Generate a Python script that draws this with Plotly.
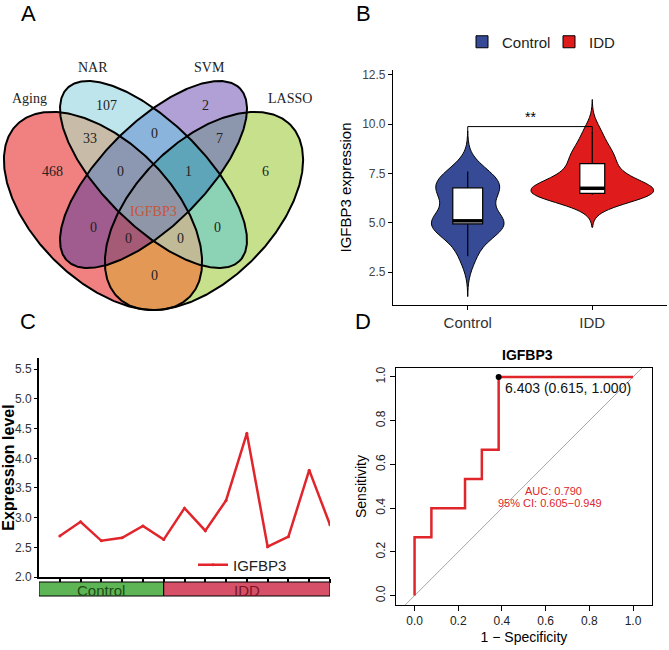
import numpy as np
import plotly.graph_objects as go

# ---------------- DATA ----------------
# Panel A - Venn diagram
venn_sets = ["Aging", "NAR", "SVM", "LASSO"]
venn_regions = ["Aging", "NAR", "SVM", "LASSO", "Aging&NAR", "NAR&SVM", "SVM&LASSO",
                "Aging&NAR&SVM", "NAR&SVM&LASSO", "Aging&NAR&SVM&LASSO", "Aging&SVM", "NAR&LASSO",
                "Aging&SVM&LASSO", "Aging&NAR&LASSO", "Aging&LASSO"]
venn_counts = ["468", "107", "2", "6", "33", "0", "7", "0", "1", "IGFBP3", "0", "0", "0", "0", "0"]

# Panel B - IGFBP3 expression samples
control_expr = [7.6, 7.3, 7.0, 6.7, 6.55, 6.38, 5.1, 5.08, 5.03, 5.0, 4.8, 4.3, 3.3]
idd_expr = [9.6, 8.8, 8.4, 8.15, 7.55, 7.45, 6.9, 6.75, 6.65, 6.6, 6.52, 6.48, 6.46, 6.44, 6.42]
groups_b = ["Control", "IDD"]
signif_label = "**"

# Panel C - validation expression level
line_values = [2.69, 2.93, 2.61, 2.66, 2.86, 2.63, 3.16, 2.78, 3.29, 4.42, 2.51, 2.68, 3.80, 2.88]
line_groups = ["Control"] * 6 + ["IDD"] * 8
line_gene = "IGFBP3"

# Panel D - ROC
roc_fpr = [0.0, 0.0, 0.077, 0.077, 0.231, 0.231, 0.308, 0.308, 0.385, 0.385, 1.0]
roc_tpr = [0.0, 0.267, 0.267, 0.4, 0.4, 0.533, 0.533, 0.667, 0.667, 1.0, 1.0]
roc_best = {"threshold": 6.403, "specificity": 0.615, "sensitivity": 1.000}
roc_auc = 0.790
roc_ci = (0.605, 0.949)

# ---------------- LAYOUT HELPERS ----------------
W, H = 669, 650
def px(x):
    return x / W
def py(y):
    return 1 - y / H

SANS = "Liberation Sans, Arial, sans-serif"
SERIF = "Liberation Serif, Times New Roman, serif"

fig = go.Figure()

# ---------------- PANEL A: Venn ----------------
# ellipse geometry in panel-A units: cx, cy, a, b, angle (deg, y down)
ell_geom = {
    "Aging": (103, 211, 122, 69, 45),
    "NAR":   (153.5, 174.5, 122, 51, 45),
    "SVM":   (153.5, 174.5, 122, 51, -45),
    "LASSO": (204, 211, 122, 69, -45),
}
# region colours keyed by membership (Aging, NAR, SVM, LASSO)
region_rgb = {
    (1, 0, 0, 0): (241, 128, 128), (0, 1, 0, 0): (190, 229, 236),
    (0, 0, 1, 0): (176, 160, 214), (0, 0, 0, 1): (199, 224, 140),
    (1, 1, 0, 0): (200, 188, 168), (0, 1, 1, 0): (138, 180, 220),
    (0, 0, 1, 1): (140, 150, 172), (1, 1, 1, 0): (140, 152, 178),
    (0, 1, 1, 1): (95, 165, 185),  (1, 1, 1, 1): (142, 150, 168),
    (1, 0, 1, 0): (160, 92, 142),  (0, 1, 0, 1): (140, 210, 180),
    (1, 0, 1, 1): (165, 90, 118),  (1, 1, 0, 1): (192, 186, 150),
    (1, 0, 0, 1): (228, 152, 85),  (0, 0, 0, 0): (255, 255, 255),
}

def inside(cx, cy, a, b, ang, X, Y):
    r = np.deg2rad(ang)
    dx, dy = X - cx, Y - cy
    u = dx * np.cos(r) + dy * np.sin(r)
    v = -dx * np.sin(r) + dy * np.cos(r)
    return (u / a) ** 2 + (v / b) ** 2 <= 1

A_X0, A_Y0, A_W, A_H = 0, 55, 330, 265
gx, gy = np.meshgrid(np.arange(A_W) + A_X0 + 0.5, np.arange(A_H) + A_Y0 + 0.5)
masks = [inside(*ell_geom[s], gx, gy).astype(int) for s in venn_sets]
img = np.zeros((A_H, A_W, 3), dtype=np.uint8)
for key, rgb in region_rgb.items():
    sel = (masks[0] == key[0]) & (masks[1] == key[1]) & (masks[2] == key[2]) & (masks[3] == key[3])
    img[sel] = rgb
fig.add_trace(go.Image(z=img, x0=A_X0 + 0.5, y0=A_Y0 + 0.5, dx=1, dy=1, xaxis="x", yaxis="y",
                       hoverinfo="skip"))

t = np.linspace(0, 2 * np.pi, 400)
def ellipse(cx, cy, a, b, ang):
    r = np.deg2rad(ang)
    x = cx + a * np.cos(t) * np.cos(r) - b * np.sin(t) * np.sin(r)
    y = cy + a * np.cos(t) * np.sin(r) + b * np.sin(t) * np.cos(r)
    return x, y

for s in venn_sets:
    ex, ey = ellipse(*ell_geom[s])
    fig.add_trace(go.Scatter(x=ex, y=ey, mode="lines", line=dict(color="black", width=2),
                             xaxis="x", yaxis="y", showlegend=False, hoverinfo="skip"))

region_pos = [(52, 171), (106, 105), (205, 105), (265, 171), (90, 138), (154, 133), (219, 138),
              (120, 171), (188, 171), (153, 211), (93, 227), (217, 227), (128, 238), (180, 238),
              (154, 275)]
set_label_pos = [(29, 98), (93, 67), (209, 67), (290, 98)]

annotations = []
for lab, (x, y) in zip(venn_counts, region_pos):
    col = "#C8553D" if not lab.isdigit() else "#222222"
    annotations.append(dict(x=x, y=y, xref="x", yref="y", text=lab, showarrow=False,
                            xanchor="center", yanchor="middle",
                            font=dict(family=SERIF, size=14, color=col)))
for lab, (x, y) in zip(venn_sets, set_label_pos):
    annotations.append(dict(x=x, y=y, xref="x", yref="y", text=lab, showarrow=False,
                            xanchor="center", yanchor="middle",
                            font=dict(family=SERIF, size=14, color="#222222")))

# ---------------- PANEL B: violin ----------------
b_colors = {"Control": "#364A95", "IDD": "#E01B1B"}
b_width = {"Control": 0.58, "IDD": 0.98}
b_bw = {"Control": 0.68, "IDD": 0.55}
b_box = {"Control": 0.24, "IDD": 0.2}
for i, (g, vals) in enumerate(zip(groups_b, [control_expr, idd_expr])):
    bw = b_bw[g]
    fig.add_trace(go.Violin(x0=i, y=vals, name=g, fillcolor=b_colors[g],
                            line=dict(color="black", width=1), width=b_width[g],
                            bandwidth=bw, spanmode="manual",
                            span=[min(vals) - 3 * bw, max(vals) + 3 * bw],
                            points=False, opacity=1, xaxis="x2", yaxis="y2",
                            legend="legend", hoverinfo="skip"))
for i, (g, vals) in enumerate(zip(groups_b, [control_expr, idd_expr])):
    fig.add_trace(go.Box(x0=i, y=vals, width=b_box[g], fillcolor="white",
                         line=dict(color="black", width=1.2), boxpoints=False,
                         whiskerwidth=0, showlegend=False, xaxis="x2", yaxis="y2",
                         hoverinfo="skip"))
    med = float(np.median(vals))
    fig.add_trace(go.Scatter(x=[i - b_box[g] / 2, i + b_box[g] / 2], y=[med, med], mode="lines",
                             line=dict(color="black", width=3.5), showlegend=False,
                             xaxis="x2", yaxis="y2", hoverinfo="skip"))

shapes = []
shapes.append(dict(type="path", xref="x2", yref="y2",
                   path="M 0,9.6 L 0,9.88 L 1,9.88 L 1,9.55",
                   line=dict(color="black", width=1)))
annotations.append(dict(x=0.5, y=10.35, xref="x2", yref="y2", text=signif_label, showarrow=False,
                        xanchor="center", yanchor="middle",
                        font=dict(family=SANS, size=14, color="black")))

# ---------------- PANEL C: line ----------------
xs = list(range(1, len(line_values) + 1))
fig.add_trace(go.Scatter(x=xs, y=line_values, mode="lines+markers", name=line_gene,
                         line=dict(color="#E0252B", width=2.5),
                         marker=dict(size=3, color="#E0252B"),
                         xaxis="x3", yaxis="y3", legend="legend2", hoverinfo="skip"))
band_colors = {"Control": "#5DB555", "IDD": "#D65068"}
band_text = {"Control": "#1F4A14", "IDD": "#7A1426"}
start = 0
for g in ["Control", "IDD"]:
    n = line_groups.count(g)
    shapes.append(dict(type="rect", xref="x3", yref="paper", x0=start, x1=start + n,
                       y0=py(596), y1=py(582), fillcolor=band_colors[g],
                       line=dict(color="black", width=1)))
    annotations.append(dict(x=start + n / 2, y=py(590), xref="x3", yref="paper", text=g,
                            xanchor="center", yanchor="middle",
                            showarrow=False, font=dict(family=SANS, size=15, color=band_text[g])))
    start += n

# ---------------- PANEL D: ROC ----------------
fig.add_trace(go.Scatter(x=[-0.2, 1.2], y=[-0.2, 1.2], mode="lines",
                         line=dict(color="#A8A8A8", width=1), showlegend=False,
                         xaxis="x4", yaxis="y4", hoverinfo="skip"))
fig.add_trace(go.Scatter(x=roc_fpr, y=roc_tpr, mode="lines",
                         line=dict(color="#E0252B", width=2.5), showlegend=False,
                         xaxis="x4", yaxis="y4", hoverinfo="skip"))
best_x = 1 - roc_best["specificity"]
best_y = roc_best["sensitivity"]
fig.add_trace(go.Scatter(x=[best_x], y=[best_y], mode="markers",
                         marker=dict(color="black", size=6), showlegend=False,
                         xaxis="x4", yaxis="y4", hoverinfo="skip"))
annotations.append(dict(x=best_x + 0.02, y=best_y - 0.05, xref="x4", yref="y4", xanchor="left",
                        yanchor="middle",
                        text="%.3f (%.3f, %.3f)" % (roc_best["threshold"], roc_best["specificity"],
                                                  roc_best["sensitivity"]),
                        showarrow=False, font=dict(family=SANS, size=14, color="#111111")))
annotations.append(dict(x=0.638, y=0.48, xref="x4", yref="y4", text="AUC: %.3f" % roc_auc,
                        xanchor="center", yanchor="middle",
                        showarrow=False, font=dict(family=SANS, size=11, color="#E0252B")))
annotations.append(dict(x=0.62, y=0.425, xref="x4", yref="y4",
                        text="95%% CI: %.3f\u2212%.3f" % roc_ci, xanchor="center", yanchor="middle",
                        showarrow=False, font=dict(family=SANS, size=11, color="#E0252B")))
annotations.append(dict(x=px(527), y=py(355), xref="paper", yref="paper", text="<b>IGFBP3</b>",
                        xanchor="center", yanchor="middle",
                        showarrow=False, font=dict(family=SANS, size=14, color="black")))

# panel letters
for lab, (x, y) in zip(["A", "B", "C", "D"], [(28, 14), (363, 14), (28, 321), (363, 321)]):
    annotations.append(dict(x=px(x), y=py(y), xref="paper", yref="paper", text=lab,
                            xanchor="center", yanchor="middle",
                            showarrow=False, font=dict(family=SANS, size=22, color="black")))

tickfont = dict(family=SANS, size=12, color="#333333")
fig.update_layout(
    width=W, height=H, margin=dict(l=0, r=0, t=0, b=0, autoexpand=False),
    paper_bgcolor="white", plot_bgcolor="white",
    violinmode="overlay", boxmode="overlay",
    font=dict(family=SANS),
    xaxis=dict(domain=[0, px(330)], range=[0, 330], visible=False, fixedrange=True, anchor="y"),
    yaxis=dict(domain=[py(320), py(55)], range=[320, 55], visible=False, fixedrange=True,
               anchor="x"),
    xaxis2=dict(domain=[px(393), px(667)], range=[-0.6, 1.6], type="linear", anchor="y2",
                tickvals=[0, 1], ticktext=groups_b, showline=True, linecolor="black", linewidth=1.2,
                ticks="outside", ticklen=4, tickcolor="black", showgrid=False, zeroline=False,
                tickfont=dict(family=SANS, size=15, color="#333333")),
    yaxis2=dict(domain=[py(305), py(70)], range=[0.83, 12.75], tickvals=[2.5, 5, 7.5, 10, 12.5],
                anchor="x2",
                tickformat=".1f", showline=True, linecolor="black", linewidth=1.2,
                ticks="outside", ticklen=4, tickcolor="black", showgrid=False, zeroline=False,
                tickfont=dict(family=SANS, size=12, color="#444444"),
                title=dict(text="IGFBP3 expression", font=dict(family=SANS, size=15, color="black"),
                           standoff=6)),
    xaxis3=dict(domain=[px(39), px(330)], range=[0, 14], tickvals=xs, showticklabels=False,
                anchor="y3",
                showline=True, linecolor="black", linewidth=2, ticks="outside", ticklen=4,
                tickcolor="black", tickwidth=1.5, showgrid=False, zeroline=False),
    yaxis3=dict(domain=[py(577), py(358)], range=[2.0, 5.69], dtick=0.5, tick0=2.0, anchor="x3",
                tickformat=".1f", showline=True, linecolor="black", linewidth=2,
                ticks="outside", ticklen=3, tickcolor="black", showgrid=False, zeroline=False,
                tickfont=tickfont,
                title=dict(text="<b>Expression level</b>", font=dict(family=SANS, size=16, color="black"),
                           standoff=4)),
    xaxis4=dict(domain=[px(396), px(652)], range=[-0.085, 1.087], anchor="y4",
                tickvals=[0, 0.2, 0.4, 0.6, 0.8, 1.0],
                tickformat=".1f", showline=True, mirror=True, linecolor="black", linewidth=1,
                ticks="outside", ticklen=5, tickcolor="black", showgrid=False, zeroline=False,
                tickfont=dict(family=SANS, size=12, color="#222222"),
                title=dict(text="1 \u2212 Specificity", font=dict(family=SANS, size=14, color="black"),
                           standoff=4)),
    yaxis4=dict(domain=[py(605), py(368)], range=[-0.043, 1.041], anchor="x4",
                tickvals=[0, 0.2, 0.4, 0.6, 0.8, 1.0],
                tickformat=".1f", tickangle=-90, showline=True, mirror=True, linecolor="black",
                linewidth=1, ticks="outside", ticklen=5, tickcolor="black", showgrid=False,
                zeroline=False, tickfont=dict(family=SANS, size=12, color="#222222"),
                title=dict(text="Sensitivity", font=dict(family=SANS, size=14, color="black"),
                           standoff=4)),
    legend=dict(orientation="h", x=px(462), y=py(42), xanchor="left", yanchor="middle",
                font=dict(family=SANS, size=15, color="#222222"), bgcolor="rgba(0,0,0,0)",
                itemwidth=30, entrywidth=42, entrywidthmode="pixels"),
    legend2=dict(x=px(193), y=py(565), xanchor="left", yanchor="middle",
                 font=dict(family=SANS, size=15, color="#222222"), bgcolor="rgba(0,0,0,0)"),
    shapes=shapes,
    annotations=annotations,
)

fig.write_html("out.html", config={"displayModeBar": False},
               post_script="document.body.style.margin='0px';")
